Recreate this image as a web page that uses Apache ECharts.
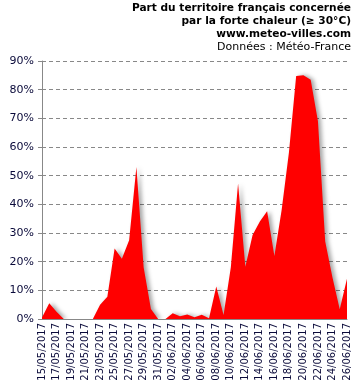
<!DOCTYPE html>
<html>
<head>
<meta charset="utf-8">
<script src="https://cdn.jsdelivr.net/npm/echarts@6/dist/echarts.min.js"></script>
<style>
html,body{margin:0;padding:0;background:#fff;}
#c{width:355px;height:386px;}
</style>
</head>
<body>
<div id="c"></div>
<script>
var titleLines = ['Part du territoire français concernée', 'par la forte chaleur (≥ 30°C)', 'www.meteo-villes.com'];
var sourceLine = 'Données : Météo-France';

var dates = ['15/05/2017','16/05/2017','17/05/2017','18/05/2017','19/05/2017','20/05/2017','21/05/2017',
  '22/05/2017','23/05/2017','24/05/2017','25/05/2017','26/05/2017','27/05/2017','28/05/2017',
  '29/05/2017','30/05/2017','31/05/2017','01/06/2017','02/06/2017','03/06/2017','04/06/2017',
  '05/06/2017','06/06/2017','07/06/2017','08/06/2017','09/06/2017','10/06/2017','11/06/2017',
  '12/06/2017','13/06/2017','14/06/2017','15/06/2017','16/06/2017','17/06/2017','18/06/2017',
  '19/06/2017','20/06/2017','21/06/2017','22/06/2017','23/06/2017','24/06/2017','25/06/2017','26/06/2017'];

var share = [0.5, 5.5, 2.5, 0, 0, 0, 0,
  0, 5, 7.8, 24.6, 21, 27.5, 53,
  18, 3.5, 0, 0, 2, 1, 1.6,
  0.6, 1.5, 0.3, 11.3, 1.4, 18, 47.3,
  18.2, 29.3, 34, 37.6, 22, 38, 58,
  84.8, 85, 83.5, 69, 27, 14.5, 3.4, 14];

var yMin = 0, yMax = 90, yStep = 10;

var chart = echarts.init(document.getElementById('c'), null, {renderer: 'canvas'});
var font = '"DejaVu Sans", Verdana, sans-serif';
var graphics = [];
titleLines.forEach(function (t, i) {
  graphics.push({type: 'text', right: 4, top: 3 + i * 13,
    style: {text: t, font: 'bold 10.6px ' + font, fill: '#000', textAlign: 'right'}});
});
graphics.push({type: 'text', right: 4, top: 3 + 3 * 13,
  style: {text: sourceLine, font: '11px ' + font, fill: '#000', textAlign: 'right'}});

chart.setOption({
  animation: false,
  backgroundColor: '#fff',
  graphic: graphics,
  grid: {left: 42, right: 8, top: 61, bottom: 67, containLabel: false},
  xAxis: {
    type: 'category',
    data: dates,
    boundaryGap: false,
    axisLine: {lineStyle: {color: '#888', width: 1}},
    axisTick: {show: false},
    axisLabel: {rotate: 90, interval: 1, fontSize: 10, fontFamily: font, color: '#0a0a3a', margin: 4}
  },
  yAxis: {
    type: 'value',
    min: yMin, max: yMax, interval: yStep,
    axisLine: {show: true, lineStyle: {color: '#888', width: 1}},
    axisTick: {show: true, length: 4, lineStyle: {color: '#888'}},
    axisLabel: {formatter: '{value}%', fontSize: 11, fontFamily: font, color: '#0a0a3a', margin: 8},
    splitLine: {show: true, lineStyle: {color: '#888', type: [4, 3], width: 1}}
  },
  series: [{
    type: 'line',
    data: share,
    symbol: 'none',
    lineStyle: {width: 0, color: '#ff0000'},
    itemStyle: {color: '#ff0000'},
    areaStyle: {color: '#ff0000', opacity: 1, shadowColor: 'rgba(0,0,0,0.35)', shadowBlur: 4, shadowOffsetX: 3, shadowOffsetY: 0}
  }]
});
</script>
</body>
</html>
